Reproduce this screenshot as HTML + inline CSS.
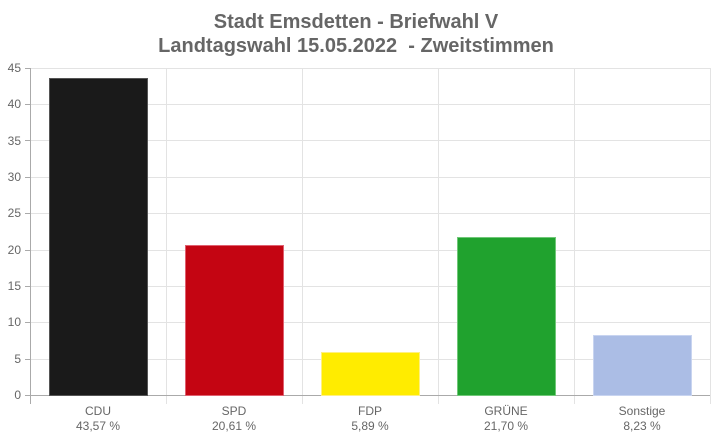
<!DOCTYPE html><html><head><style>body{margin:0;background:#fff}</style></head><body>
<svg width="712" height="438" xmlns="http://www.w3.org/2000/svg" font-family="Liberation Sans, Arial, sans-serif">
<rect width="712" height="438" fill="#fff"/>
<text x="356" y="28" text-anchor="middle" font-size="20" font-weight="bold" fill="#666">Stadt Emsdetten - Briefwahl V</text>
<text x="356" y="52" text-anchor="middle" font-size="20" font-weight="bold" fill="#666">Landtagswahl 15.05.2022 &#160;- Zweitstimmen</text>
<g stroke="#e3e3e3" stroke-width="1">
<line x1="30" x2="710" y1="68.5" y2="68.5"/><line x1="30" x2="710" y1="104.5" y2="104.5"/><line x1="30" x2="710" y1="140.5" y2="140.5"/><line x1="30" x2="710" y1="177.5" y2="177.5"/><line x1="30" x2="710" y1="213.5" y2="213.5"/><line x1="30" x2="710" y1="250.5" y2="250.5"/><line x1="30" x2="710" y1="286.5" y2="286.5"/><line x1="30" x2="710" y1="322.5" y2="322.5"/><line x1="30" x2="710" y1="359.5" y2="359.5"/>
<line x1="166.5" x2="166.5" y1="68" y2="404"/><line x1="302.5" x2="302.5" y1="68" y2="404"/><line x1="438.5" x2="438.5" y1="68" y2="404"/><line x1="574.5" x2="574.5" y1="68" y2="404"/><line x1="710.5" x2="710.5" y1="68" y2="404"/>
</g>
<g stroke="#aaa"><line x1="30.5" x2="30.5" y1="68" y2="404"/><line x1="25" x2="710" y1="395.5" y2="395.5"/>
<line x1="25" x2="30" y1="68.5" y2="68.5"/><line x1="25" x2="30" y1="104.5" y2="104.5"/><line x1="25" x2="30" y1="140.5" y2="140.5"/><line x1="25" x2="30" y1="177.5" y2="177.5"/><line x1="25" x2="30" y1="213.5" y2="213.5"/><line x1="25" x2="30" y1="250.5" y2="250.5"/><line x1="25" x2="30" y1="286.5" y2="286.5"/><line x1="25" x2="30" y1="322.5" y2="322.5"/><line x1="25" x2="30" y1="359.5" y2="359.5"/></g>
<g font-size="12" fill="#666" text-anchor="end">
<text x="21" y="72">45</text><text x="21" y="108">40</text><text x="21" y="145">35</text><text x="21" y="181">30</text><text x="21" y="217">25</text><text x="21" y="254">20</text><text x="21" y="290">15</text><text x="21" y="326">10</text><text x="21" y="363">5</text><text x="21" y="399">0</text></g>
<rect x="49.5" y="78.5" width="98" height="317" fill="#1a1a1a" stroke="#555"/>
<rect x="185.5" y="245.5" width="98" height="150" fill="#c40512" stroke="#e06070"/>
<rect x="321.5" y="352.5" width="98" height="43" fill="#ffec00" stroke="#fff080"/>
<rect x="457.5" y="237.5" width="98" height="158" fill="#20a22e" stroke="#70c878"/>
<rect x="593.5" y="335.5" width="98" height="60" fill="#abbde5" stroke="#c8d4f0"/>
<g font-size="12" fill="#666" text-anchor="middle">
<text x="98" y="415">CDU</text><text x="98" y="430">43,57 %</text>
<text x="234" y="415">SPD</text><text x="234" y="430">20,61 %</text>
<text x="370" y="415">FDP</text><text x="370" y="430">5,89 %</text>
<text x="506" y="415">GRÜNE</text><text x="506" y="430">21,70 %</text>
<text x="642" y="415">Sonstige</text><text x="642" y="430">8,23 %</text></g>
</svg></body></html>
